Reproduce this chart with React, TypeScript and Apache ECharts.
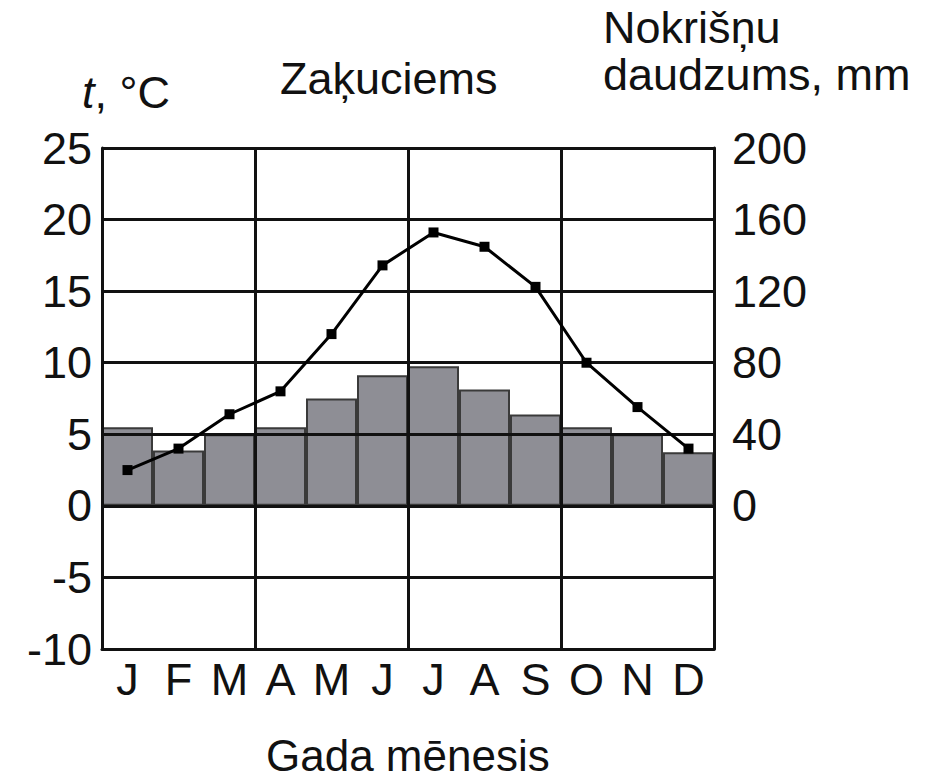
import React, { useEffect, useRef } from "react";
import * as echarts from "echarts";

const months = ["J", "F", "M", "A", "M", "J", "J", "A", "S", "O", "N", "D"];
const temperature = [2.5, 4.0, 6.4, 8.0, 12.0, 16.8, 19.1, 18.1, 15.3, 10.0, 6.9, 4.0];
const precipitation = [44, 31, 40, 44, 60, 73, 78, 65, 51, 44, 40, 30];
const tempTicks = { min: -10, max: 25, step: 5 };
const precTicks = { min: -80, max: 200, step: 40 };

const FONT = "'Liberation Sans', Arial, Helvetica, sans-serif";
const FS = 45;
const INK = "#111111";

export default function App() {
  const ref = useRef<HTMLDivElement>(null);
  useEffect(() => {
    if (!ref.current) return;
    const chart = echarts.init(ref.current, undefined, { renderer: "svg" });
    const option: any = {
      animation: false,
      backgroundColor: "#ffffff",
      grid: { left: 102, top: 148, width: 612, height: 501, containLabel: false },
      xAxis: {
        type: "category",
        data: months,
        boundaryGap: true,
        z: 10,
        axisLine: { show: true, onZero: false, lineStyle: { color: INK, width: 3 } },
        axisTick: { show: false },
        axisLabel: { color: INK, fontSize: FS, fontFamily: FONT, margin: 8, interval: 0 },
        splitLine: {
          show: true,
          interval: (idx: number) => idx % 3 === 0,
          lineStyle: { color: INK, width: 3 },
        },
      },
      yAxis: [
        {
          type: "value",
          min: tempTicks.min,
          max: tempTicks.max,
          interval: tempTicks.step,
          z: 10,
          axisLine: { show: true, lineStyle: { color: INK, width: 3 } },
          axisTick: { show: false },
          axisLabel: { color: INK, fontSize: FS, fontFamily: FONT, margin: 10 },
          splitLine: { show: true, lineStyle: { color: INK, width: 3 } },
        },
        {
          type: "value",
          min: precTicks.min,
          max: precTicks.max,
          interval: precTicks.step,
          position: "right",
          z: 10,
          axisLine: { show: true, lineStyle: { color: INK, width: 3 } },
          axisTick: { show: false },
          axisLabel: {
            color: INK,
            fontSize: FS,
            fontFamily: FONT,
            margin: 18,
            formatter: (v: number) => (v >= 0 ? String(v) : ""),
          },
          splitLine: { show: false },
        },
      ],
      series: [
        {
          type: "bar",
          yAxisIndex: 1,
          data: precipitation,
          barCategoryGap: "0%",
          z: 2,
          itemStyle: { color: "#8e8e95", borderColor: "#3a3a3a", borderWidth: 2 },
        },
        {
          type: "line",
          yAxisIndex: 0,
          data: temperature,
          z: 20,
          symbol: "rect",
          symbolSize: 10,
          lineStyle: { color: "#000000", width: 3 },
          itemStyle: { color: "#000000" },
        },
      ],
      graphic: [
        {
          type: "text",
          left: 82,
          top: 70,
          style: {
            text: "{i|t}, °C",
            fill: INK,
            font: `${FS}px ${FONT}`,
            rich: { i: { fontStyle: "italic", fontSize: FS, fontFamily: FONT, fill: INK } },
          },
        },
        {
          type: "text",
          left: 280,
          top: 56,
          style: { text: "Zaķuciems", fill: INK, font: `${FS}px ${FONT}` },
        },
        {
          type: "text",
          left: 603,
          top: 5,
          style: { text: "Nokrišņu", fill: INK, font: `${FS}px ${FONT}` },
        },
        {
          type: "text",
          left: 603,
          top: 52,
          style: { text: "daudzums, mm", fill: INK, font: `${FS}px ${FONT}` },
        },
        {
          type: "text",
          left: 266,
          top: 733,
          style: { text: "Gada mēnesis", fill: INK, font: `44px ${FONT}`, lineHeight: 38 },
        },
      ],
    };
    chart.setOption(option);
    return () => chart.dispose();
  }, []);
  return (
    <div
      ref={ref}
      style={{ position: "fixed", left: 0, top: 0, width: 930, height: 778, background: "#fff" }}
    />
  );
}
